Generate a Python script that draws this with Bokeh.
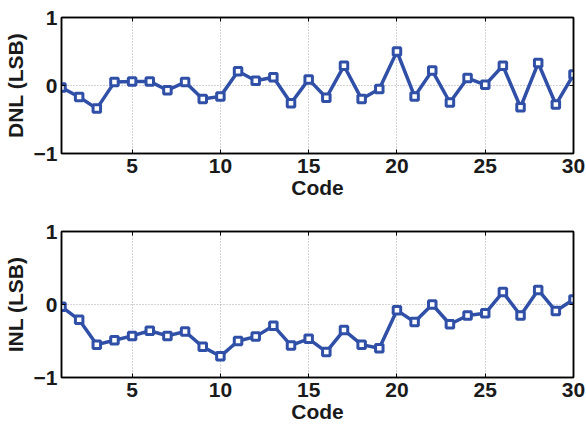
from bokeh.plotting import figure
from bokeh.layouts import column
from bokeh.models import Range1d, FixedTicker, LinearAxis
from bokeh.embed import file_html
from bokeh.resources import INLINE

codes = list(range(1, 31))
dnl = [-0.03, -0.17, -0.34, 0.05, 0.06, 0.06, -0.07, 0.05, -0.20, -0.16,
       0.21, 0.07, 0.12, -0.26, 0.09, -0.18, 0.29, -0.20, -0.05, 0.50,
       -0.16, 0.22, -0.25, 0.11, 0.01, 0.29, -0.32, 0.33, -0.28, 0.16]
inl = [-0.03, -0.21, -0.55, -0.49, -0.43, -0.36, -0.43, -0.37, -0.58, -0.71,
       -0.50, -0.44, -0.29, -0.56, -0.47, -0.65, -0.35, -0.55, -0.60, -0.08,
       -0.24, 0.00, -0.27, -0.15, -0.12, 0.17, -0.15, 0.20, -0.09, 0.07]
x_ticks = [5, 10, 15, 20, 25, 30]
y_ticks = [-1, 0, 1]
x_label = "Code"
y_labels = ["DNL (LSB)", "INL (LSB)"]

BLUE = "#3050A8"
FONT = "Liberation Sans"


def style_axis(ax, ticks, labels=True):
    ax.ticker = FixedTicker(ticks=ticks)
    ax.major_tick_in = 4
    ax.major_tick_out = 0
    ax.minor_tick_line_color = None
    ax.axis_line_color = "black"
    ax.axis_line_width = 1.5
    ax.major_label_text_font = FONT
    ax.major_label_text_font_style = "bold"
    ax.major_label_text_font_size = "21px"
    ax.major_label_text_color = "#1a1a1a"
    ax.axis_label_text_font = FONT
    ax.axis_label_text_font_style = "bold"
    ax.axis_label_text_font_size = "21px"
    ax.axis_label_text_color = "#1a1a1a"
    if not labels:
        ax.major_label_overrides = {t: "" for t in ticks}
        ax.major_label_standoff = 0


def make(yvals, ylabel, height, top, bottom):
    p = figure(width=586, height=height, output_backend="svg", toolbar_location=None,
               x_range=Range1d(1, 30), y_range=Range1d(-1, 1),
               min_border_left=59, min_border_right=13,
               min_border_top=top, min_border_bottom=bottom)
    p.outline_line_color = "black"
    p.outline_line_width = 1.5
    p.background_fill_color = "white"
    p.border_fill_color = "white"
    xax = p.below[0]
    yax = p.left[0]
    style_axis(xax, x_ticks)
    style_axis(yax, y_ticks)
    top_ax = LinearAxis()
    style_axis(top_ax, x_ticks, labels=False)
    p.add_layout(top_ax, "above")
    right_ax = LinearAxis()
    style_axis(right_ax, y_ticks, labels=False)
    p.add_layout(right_ax, "right")
    xax.axis_label = x_label
    yax.axis_label = ylabel
    xax.major_label_standoff = 5
    xax.axis_label_standoff = 0
    yax.major_label_standoff = 4
    yax.axis_label_standoff = 4
    yax.major_label_orientation = "horizontal"
    for g, ticks in ((p.xgrid[0], x_ticks), (p.ygrid[0], y_ticks)):
        g.ticker = FixedTicker(ticks=ticks)
        g.grid_line_color = "#a8a8a8"
        g.grid_line_dash = "1 2"
        g.grid_line_width = 1
    p.line(codes, yvals, line_color=BLUE, line_width=3.5)
    p.scatter(codes, yvals, marker="square", size=7.5, line_color=BLUE,
              line_width=3, fill_color="white")
    return p


p1 = make(dnl, y_labels[0], 205, 17, 52)
p2 = make(inl, y_labels[1], 220, 26, 48)
layout = column(p1, p2, spacing=0)
open("out.html", "w").write(file_html(layout, INLINE))
